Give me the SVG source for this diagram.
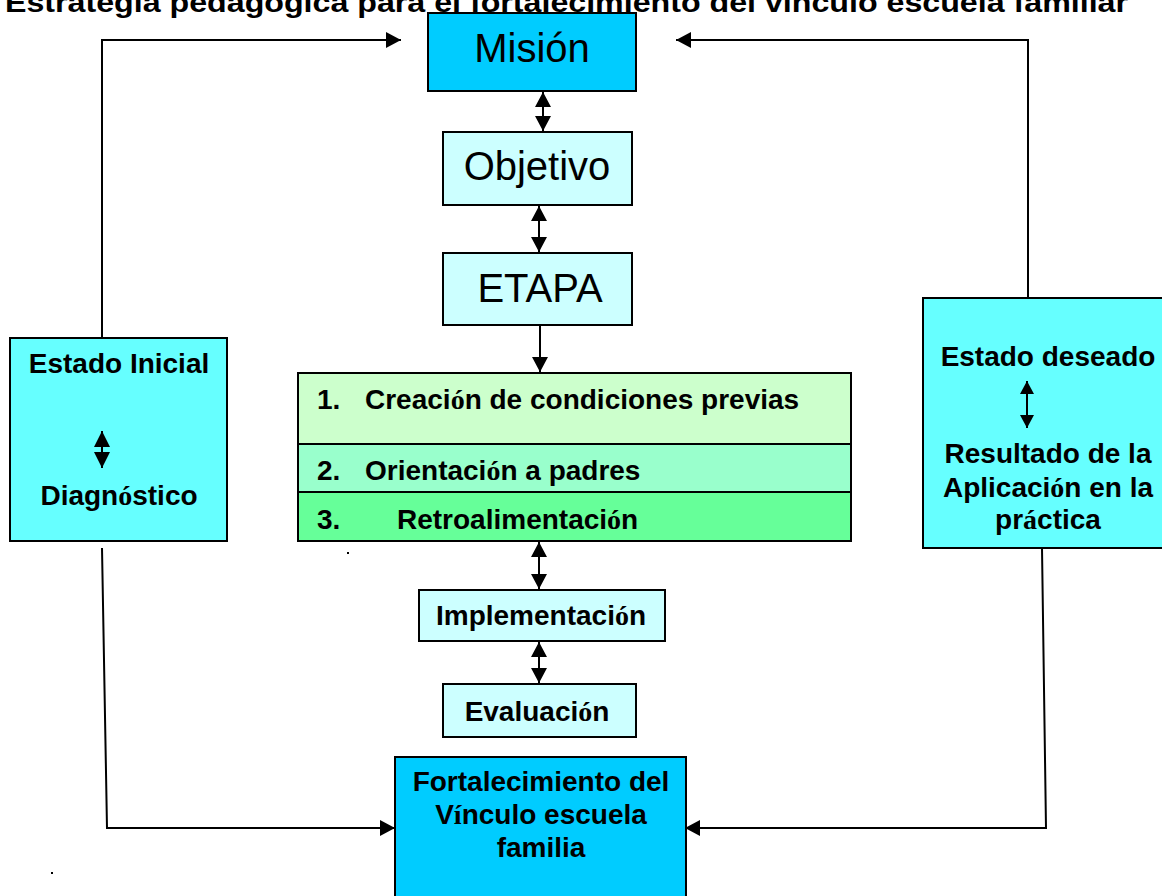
<svg xmlns="http://www.w3.org/2000/svg" width="1162" height="896" viewBox="0 0 1162 896">
<style>
.box{stroke:#000;stroke-width:2}
.c1{fill:#00CCFF}.c2{fill:#CCFFFF}.c3{fill:#66FFFF}
.r1{fill:#CCFFCC}.r2{fill:#99FFCC}.r3{fill:#66FF99}
.big{font-family:"Liberation Sans",Arial,sans-serif;font-size:40px;fill:#000}
.b{font-family:"Liberation Sans",Arial,sans-serif;font-size:28px;font-weight:bold;fill:#000}
.acc{font-family:"Liberation Serif","Times New Roman",serif;font-weight:bold}
.mid{text-anchor:middle}
.ln{stroke:#000;stroke-width:2;fill:none}
</style>
<defs>
<marker id="ah" markerUnits="userSpaceOnUse" markerWidth="16" markerHeight="16" refX="15" refY="8" orient="auto-start-reverse">
<path d="M0,0 L15,8 L0,16 Z" fill="#000"/>
</marker>
<marker id="ahl" markerUnits="userSpaceOnUse" markerWidth="17" markerHeight="16" refX="16" refY="8" orient="auto-start-reverse">
<path d="M0,0 L16,8 L0,16 Z" fill="#000"/>
</marker>
<marker id="ahs" markerUnits="userSpaceOnUse" markerWidth="14" markerHeight="14" refX="13" refY="7" orient="auto-start-reverse">
<path d="M0,0 L13,7 L0,14 Z" fill="#000"/>
</marker>
</defs>
<rect width="1162" height="896" fill="#fff"/>
<text class="b" x="5" y="12" textLength="1123" lengthAdjust="spacingAndGlyphs">Estrategia pedagógica para el fortalecimiento del vínculo escuela familiar</text>

<g id="connectors">
<polyline class="ln" points="102,338 102,40 401,40" marker-end="url(#ah)"/>
<polyline class="ln" points="1028,298 1028,40 676,40" marker-end="url(#ah)"/>
<polyline class="ln" points="102,548 107,828 395,828" marker-end="url(#ah)"/>
<polyline class="ln" points="1042,548 1046,828 685,828" marker-end="url(#ah)"/>
<line class="ln" x1="543" y1="92" x2="543" y2="131" marker-start="url(#ah)" marker-end="url(#ah)"/>
<line class="ln" x1="539" y1="206" x2="539" y2="252" marker-start="url(#ah)" marker-end="url(#ah)"/>
<line class="ln" x1="540" y1="325" x2="540" y2="372" marker-end="url(#ah)"/>
<line class="ln" x1="539" y1="542" x2="539" y2="589" marker-start="url(#ah)" marker-end="url(#ah)"/>
<line class="ln" x1="539" y1="642" x2="539" y2="683" marker-start="url(#ah)" marker-end="url(#ah)"/>
</g>

<g id="mision">
<rect class="box c1" x="428" y="13" width="208" height="78"/>
<text class="big mid" x="532" y="62">Misión</text>
</g>
<g id="objetivo">
<rect class="box c2" x="443" y="132" width="189" height="73"/>
<text class="big mid" x="537" y="180">Objetivo</text>
</g>
<g id="etapa">
<rect class="box c2" x="443" y="253" width="189" height="72"/>
<text class="big mid" x="540" y="302">ETAPA</text>
</g>
<g id="etapas">
<rect class="box r1" x="298" y="373" width="553" height="71"/>
<rect class="box r2" x="298" y="444" width="553" height="48"/>
<rect class="box r3" x="298" y="492" width="553" height="49"/>
<text class="b" x="317" y="409">1.</text>
<text class="b" x="365" y="409">Creaci<tspan class="acc">ó</tspan>n  de condiciones previas</text>
<text class="b" x="317" y="480">2.</text>
<text class="b" x="365" y="480">Orientaci<tspan class="acc">ó</tspan>n a padres</text>
<text class="b" x="317" y="529">3.</text>
<text class="b" x="397" y="529">Retroalimentaci<tspan class="acc">ó</tspan>n</text>
</g>
<g id="implementacion">
<rect class="box c2" x="419" y="590" width="246" height="51"/>
<text class="b mid" x="541" y="625">Implementaci<tspan class="acc">ó</tspan>n</text>
</g>
<g id="evaluacion">
<rect class="box c2" x="443" y="684" width="193" height="53"/>
<text class="b mid" x="537" y="721">Evaluaci<tspan class="acc">ó</tspan>n</text>
</g>
<g id="fortalecimiento">
<rect class="box c1" x="395" y="757" width="291" height="145"/>
<text class="b mid" x="541" y="791">Fortalecimiento del</text>
<text class="b mid" x="541" y="824">V<tspan class="acc">í</tspan>nculo escuela</text>
<text class="b mid" x="541" y="857">familia</text>
</g>
<g id="estado-inicial">
<rect class="box c3" x="10" y="338" width="217" height="203"/>
<text class="b mid" x="119" y="373">Estado Inicial</text>
<line class="ln" x1="102" y1="431" x2="102" y2="468" marker-start="url(#ahl)" marker-end="url(#ahl)"/>
<text class="b mid" x="119" y="505">Diagn<tspan class="acc">ó</tspan>stico</text>
</g>
<g id="estado-deseado">
<rect class="box c3" x="923" y="298" width="245" height="250"/>
<text class="b mid" x="1048" y="366">Estado deseado</text>
<line class="ln" x1="1027" y1="381" x2="1027" y2="428" marker-start="url(#ahs)" marker-end="url(#ahs)"/>
<text class="b mid" x="1048" y="463">Resultado de la</text>
<text class="b mid" x="1048" y="497">Aplicaci<tspan class="acc">ó</tspan>n en la</text>
<text class="b mid" x="1048" y="529">pr<tspan class="acc">á</tspan>ctica</text>
</g>
<rect x="347" y="552" width="2" height="2" fill="#000"/>
<rect x="51" y="872" width="2" height="2" fill="#000"/>
</svg>
